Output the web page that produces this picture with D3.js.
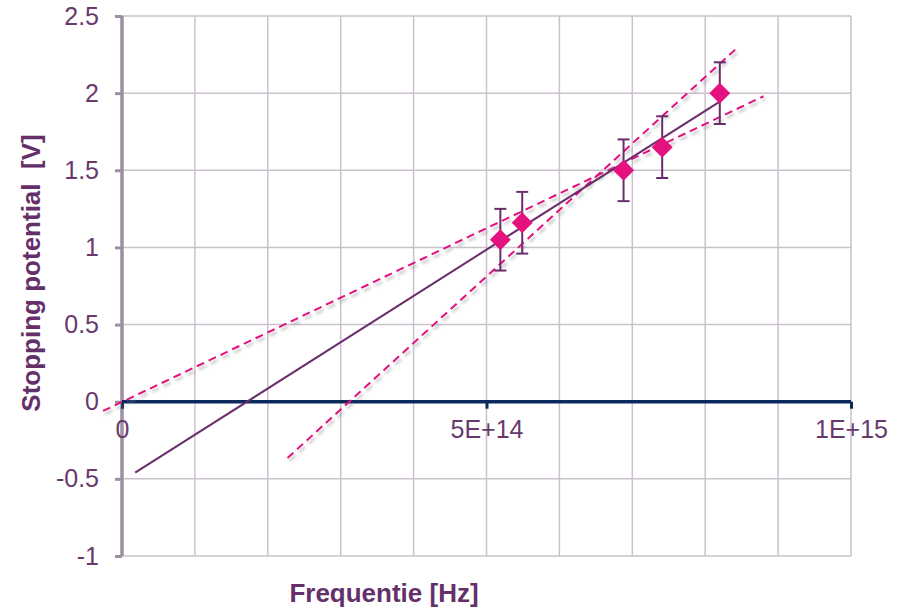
<!DOCTYPE html>
<html>
<head>
<meta charset="utf-8">
<script src="https://cdn.jsdelivr.net/npm/d3@7"></script>
<style>
  html, body { margin: 0; padding: 0; background: #ffffff; }
  svg { display: block; font-family: "Liberation Sans", Arial, sans-serif; }
</style>
</head>
<body>
<svg id="chart" width="900" height="609"></svg>
<script>
// ---- data ----
const freq = [5.19e14, 5.49e14, 6.88e14, 7.41e14, 8.20e14];
const voltage = [1.05, 1.16, 1.50, 1.65, 2.00];
const errorV = [0.2, 0.2, 0.2, 0.2, 0.2];

// fitted line (solid) endpoints
const fitFreq = [1.8e13, 8.2e14];
const fitV = [-0.46, 1.945];
// min / max slope lines (dashed)
const lowFreq = [-2.6e13, 8.8e14];
const lowV = [-0.06, 1.98];
const highFreq = [2.27e14, 8.43e14];
const highV = [-0.365, 2.29];

const xTicks = [0, 5e14, 1e15];
const xTickLabels = ["0", "5E+14", "1E+15"];
const xGrid = [0, 1e14, 2e14, 3e14, 4e14, 5e14, 6e14, 7e14, 8e14, 9e14, 1e15];
const yTicks = [-1, -0.5, 0, 0.5, 1, 1.5, 2, 2.5];
const yTickLabels = ["-1", "-0.5", "0", "0.5", "1", "1.5", "2", "2.5"];

const xTitle = "Frequentie [Hz]";
const yTitle = "Stopping potential  [V]";

// ---- layout ----
const svg = d3.select("#chart");
const pLeft = 122, pRight = 851, pTop = 16, pBottom = 556;
const x = d3.scaleLinear().domain([0, 1e15]).range([pLeft, pRight]);
const y = d3.scaleLinear().domain([-1, 2.5]).range([pBottom, pTop]);

const gridColor = "#cbc1cd";
const yAxisColor = "#9d8ea2";
const xAxisColor = "#0d2a5e";
const textColor = "#683a6c";
const titleColor = "#65306a";
const pink = "#e4117f";
const barColor = "#6a2d6c";

const defs = svg.append("defs");
const f = defs.append("filter").attr("id", "shadow")
  .attr("x", "-20%").attr("y", "-20%").attr("width", "140%").attr("height", "140%");
f.append("feDropShadow").attr("dx", 2).attr("dy", 3).attr("stdDeviation", 1.8)
  .attr("flood-color", "#808080").attr("flood-opacity", 0.55);

// gridlines
svg.append("g").selectAll("line").data(xGrid).join("line")
  .attr("x1", d => x(d)).attr("x2", d => x(d))
  .attr("y1", pTop).attr("y2", pBottom)
  .attr("stroke", gridColor).attr("stroke-width", 1.5);
svg.append("g").selectAll("line").data(yTicks).join("line")
  .attr("x1", pLeft).attr("x2", pRight)
  .attr("y1", d => y(d)).attr("y2", d => y(d))
  .attr("stroke", gridColor).attr("stroke-width", 1.5);

// y axis
const yAxis = d3.axisLeft(y).tickValues(yTicks).tickSize(7).tickPadding(16)
  .tickFormat((d, i) => yTickLabels[i]);
const gy = svg.append("g").attr("transform", `translate(${pLeft},0)`).call(yAxis);
gy.select(".domain").attr("stroke", yAxisColor).attr("stroke-width", 3.5)
  .attr("d", `M0,${pTop}V${pBottom}`);
gy.selectAll(".tick line").attr("stroke", yAxisColor).attr("stroke-width", 3);
gy.selectAll(".tick text").attr("fill", textColor)
  .style("font-size", "25px").style("font-family", "'Liberation Sans', Arial, sans-serif");

// x axis at y = 0
const xAxis = d3.axisBottom(x).tickValues(xTicks).tickSize(7).tickPadding(12)
  .tickFormat((d, i) => xTickLabels[i]);
const gx = svg.append("g").attr("transform", `translate(0,${y(0)})`).call(xAxis);
gx.select(".domain").attr("stroke", xAxisColor).attr("stroke-width", 3.5)
  .attr("d", `M${pLeft},0H${pRight}`);
gx.selectAll(".tick line").attr("stroke", xAxisColor).attr("stroke-width", 3);
gx.selectAll(".tick text").attr("fill", textColor)
  .style("font-size", "25px").style("font-family", "'Liberation Sans', Arial, sans-serif");

// lines
const line = d3.line().x(d => x(d[0])).y(d => y(d[1]));
svg.append("path").datum(d3.zip(lowFreq, lowV))
  .attr("d", line).attr("fill", "none").attr("stroke", pink)
  .attr("stroke-width", 2).attr("stroke-dasharray", "8,5").attr("filter", "url(#shadow)");
svg.append("path").datum(d3.zip(highFreq, highV))
  .attr("d", line).attr("fill", "none").attr("stroke", pink)
  .attr("stroke-width", 2).attr("stroke-dasharray", "8,5").attr("filter", "url(#shadow)");
svg.append("path").datum(d3.zip(fitFreq, fitV))
  .attr("d", line).attr("fill", "none").attr("stroke", barColor)
  .attr("stroke-width", 2);

// error bars
const pts = d3.zip(freq, voltage, errorV);
const eb = svg.append("g").selectAll("g").data(pts).join("g");
eb.append("line")
  .attr("x1", d => x(d[0])).attr("x2", d => x(d[0]))
  .attr("y1", d => y(d[1] - d[2])).attr("y2", d => y(d[1] + d[2]))
  .attr("stroke", barColor).attr("stroke-width", 2);
eb.append("line")
  .attr("x1", d => x(d[0]) - 6).attr("x2", d => x(d[0]) + 6)
  .attr("y1", d => y(d[1] + d[2])).attr("y2", d => y(d[1] + d[2]))
  .attr("stroke", barColor).attr("stroke-width", 2);
eb.append("line")
  .attr("x1", d => x(d[0]) - 6).attr("x2", d => x(d[0]) + 6)
  .attr("y1", d => y(d[1] - d[2])).attr("y2", d => y(d[1] - d[2]))
  .attr("stroke", barColor).attr("stroke-width", 2);

// diamond markers
const diamond = d3.symbol().type(d3.symbolSquare).size(220);
svg.append("g").selectAll("path").data(pts).join("path")
  .attr("d", diamond)
  .attr("transform", d => `translate(${x(d[0])},${y(d[1])}) rotate(45)`)
  .attr("fill", pink);

// titles
svg.append("text").text(xTitle)
  .attr("x", 384).attr("y", 602).attr("text-anchor", "middle")
  .attr("fill", titleColor).style("font-weight", "bold").style("font-size", "26px");
svg.append("text").text(yTitle)
  .attr("transform", "translate(40,273) rotate(-90)")
  .attr("text-anchor", "middle").style("white-space", "pre")
  .attr("fill", titleColor).style("font-weight", "bold").style("font-size", "26px");
</script>
</body>
</html>
